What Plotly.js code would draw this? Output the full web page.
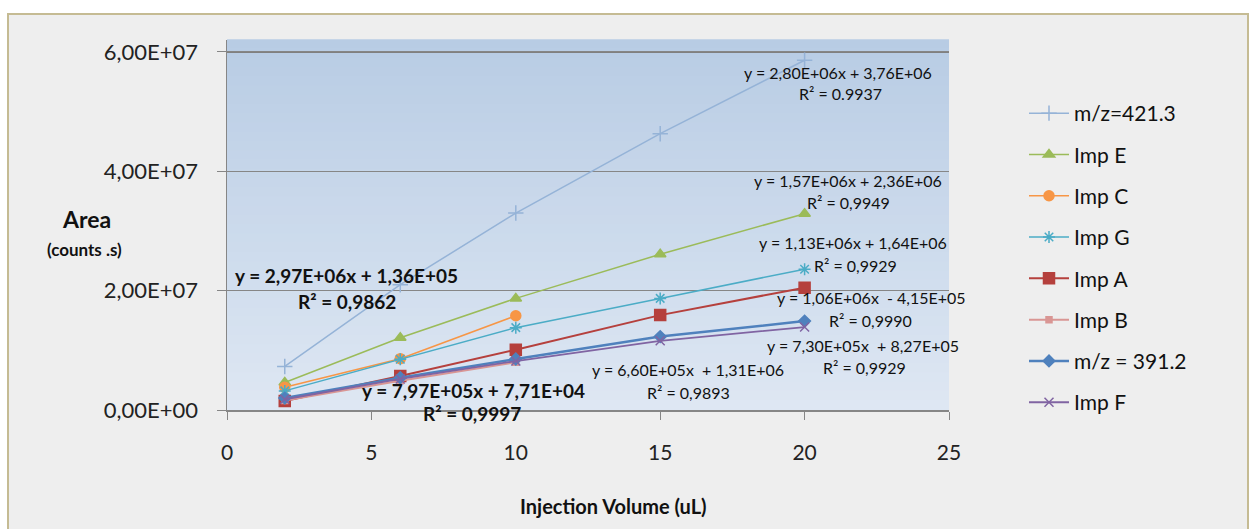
<!DOCTYPE html>
<html>
<head>
<meta charset="utf-8">
<script src="https://cdn.plot.ly/plotly-3.0.1.min.js"></script>
<style>
  html, body { margin:0; padding:0; background:#ffffff; width:1254px; height:529px; overflow:hidden; }
  #frame { position:absolute; left:7px; top:13px; width:1238px; height:600px; border:2px solid #c5bb93; background:#eeeeee; }
  #chart { position:absolute; left:0; top:0; width:1254px; height:529px; }
</style>
</head>
<body>
<div id="frame"></div>
<div id="chart"></div>
<script>
// ---- data ----
const volumes5 = [2, 6, 10, 15, 20];
const volumes3 = [2, 6, 10];
const seriesNames = ["m/z=421.3", "Imp E", "Imp C", "Imp G", "Imp A", "Imp B", "m/z = 391.2", "Imp F"];
const mz421 = [7.3e6, 2.1e7, 3.3e7, 4.63e7, 5.86e7];
const impE  = [4.6e6, 1.21e7, 1.87e7, 2.61e7, 3.29e7];
const impC  = [3.8e6, 8.6e6, 1.58e7];
const impG  = [3.2e6, 8.5e6, 1.38e7, 1.87e7, 2.36e7];
const impA  = [1.5e6, 5.7e6, 1.01e7, 1.59e7, 2.05e7];
const impB  = [1.6e6, 4.9e6, 8.0e6];
const mz391 = [2.0e6, 5.4e6, 8.55e6, 1.23e7, 1.49e7];
const impF  = [1.8e6, 5.2e6, 8.2e6, 1.16e7, 1.39e7];
const yTickVals = [0, 2e7, 4e7, 6e7];
const yTickText = ["0,00E+00", "2,00E+07", "4,00E+07", "6,00E+07"];
const xTickVals = [0, 5, 10, 15, 20, 25];
const eqLines = [
  "y = 2,80E+06x + 3,76E+06", "R\u00b2 = 0.9937",
  "y = 1,57E+06x + 2,36E+06", "R\u00b2 = 0,9949",
  "y = 1,13E+06x + 1,64E+06", "R\u00b2 = 0,9929",
  "y = 1,06E+06x  - 4,15E+05", "R\u00b2 = 0,9990",
  "y = 7,30E+05x  + 8,27E+05", "R\u00b2 = 0,9929",
  "y = 6,60E+05x  + 1,31E+06", "R\u00b2 = 0,9893"
];
const eqBold = [
  "y = 2,97E+06x + 1,36E+05", "R\u00b2 = 0,9862",
  "y = 7,97E+05x + 7,71E+04", "R\u00b2 = 0,9997"
];
const yTitle = ["Area", "(counts .s)"];
const xTitle = "Injection Volume (uL)";

// ---- layout geometry ----
const W = 1254, H = 529;
const L = 227, R = 949, T = 40, B = 410;
function px(x) { return (x - L) / (R - L); }
function py(y) { return (B - y) / (B - T); }
const FONT = "Lato, 'Open Sans', sans-serif";

function tr(name, x, y, color, lw, symbol, size) {
  return {
    type: "scatter", mode: "lines+markers", name: name, x: x, y: y,
    legendgroup: name,
    line: { color: color, width: lw },
    marker: { symbol: symbol, size: size, color: color, line: { color: color, width: 1.5 } },
    hoverinfo: "skip"
  };
}

const traces = [
  tr(seriesNames[0], volumes5, mz421, "#95b3d7", 1.5, "cross-thin", 11),
  tr(seriesNames[1], volumes5, impE, "#9bbb59", 1.5, "triangle-up", 10),
  tr(seriesNames[2], volumes3, impC, "#f79646", 1.5, "circle", 10),
  tr(seriesNames[3], volumes5, impG, "#4bacc6", 1.5, "asterisk-open", 10),
  tr(seriesNames[4], volumes5, impA, "#b5403d", 2, "square", 11),
  tr(seriesNames[5], volumes3, impB, "#d99694", 2, "square", 6),
  tr(seriesNames[6], volumes5, mz391, "#4f81bd", 2.5, "diamond", 9),
  tr(seriesNames[7], volumes5, impF, "#8064a2", 1.8, "x-thin-open", 9)
];

// gradient background bands for plot area
const shapes = [];
const N = 40;
const c0 = [184, 204, 228], c1 = [222, 231, 243];
for (let i = 0; i < N; i++) {
  const t = (i + 0.5) / N;
  const c = c0.map((v, k) => Math.round(v + (c1[k] - v) * t));
  shapes.push({
    type: "rect", xref: "x domain", yref: "y domain", layer: "below",
    x0: 0, x1: 1, y0: 1 - (i + 1) / N - 0.002, y1: 1 - i / N + 0.002,
    line: { width: 0 }, fillcolor: "rgb(" + c.join(",") + ")"
  });
}
// heavier top gridline
shapes.push({
  type: "line", xref: "x domain", yref: "y", layer: "below",
  x0: 0, x1: 1, y0: yTickVals[3], y1: yTickVals[3],
  line: { color: "#808080", width: 2 }
});

const annotations = [];
function note(text, cx, cy, size, bold) {
  annotations.push({
    xref: "paper", yref: "paper", x: px(cx), y: py(cy),
    xanchor: "center", yanchor: "middle", showarrow: false,
    text: bold ? "<b>" + text + "</b>" : text,
    font: { family: FONT, size: size, color: "#111111" }
  });
}
const eqPos = [
  [838, 72], [840, 93],
  [848, 180], [848, 202],
  [853, 242], [855, 265],
  [871, 297], [870, 320],
  [863, 345], [864, 367],
  [688, 369], [688, 392]
];
eqLines.forEach((t, i) => note(t, eqPos[i][0], eqPos[i][1], 16, false));
const boldPos = [[346, 275], [347, 301], [473, 390], [472, 414]];
eqBold.forEach((t, i) => note(t, boldPos[i][0], boldPos[i][1], 19, true));
note(yTitle[0], 86, 219, 23, true);
note(yTitle[1], 84, 249, 17, true);
note(xTitle, 613, 506, 20, true);

const layout = {
  width: W, height: H,
  margin: { l: L, r: W - R, t: T, b: H - B, pad: 0 },
  paper_bgcolor: "rgba(0,0,0,0)",
  plot_bgcolor: "rgba(0,0,0,0)",
  font: { family: FONT, color: "#222222" },
  showlegend: true,
  legend: {
    x: px(1024), y: py(93), xanchor: "left", yanchor: "top",
    bgcolor: "rgba(0,0,0,0)", borderwidth: 0,
    font: { family: FONT, size: 21, color: "#111111" },
    tracegroupgap: 11, traceorder: "grouped", itemwidth: 40
  },
  xaxis: {
    range: [0, 25], tickvals: xTickVals, ticktext: xTickVals.map(String),
    ticks: "outside", ticklen: 8, tickcolor: "#868686", tickwidth: 1,
    showline: true, linecolor: "#868686", linewidth: 1.5,
    showgrid: false, zeroline: false,
    tickfont: { family: FONT, size: 21, color: "#222222" },
    ticklabelstandoff: 15
  },
  yaxis: {
    range: [0, 6.2e7], tickvals: yTickVals, ticktext: yTickText,
    ticks: "outside", ticklen: 9, tickcolor: "#868686", tickwidth: 1,
    showline: true, linecolor: "#868686", linewidth: 1.5,
    showgrid: true, gridcolor: "#868686", gridwidth: 1, zeroline: false,
    tickfont: { family: FONT, size: 22, color: "#222222" },
    ticklabelstandoff: 14
  },
  shapes: shapes,
  annotations: annotations
};

Plotly.newPlot("chart", traces, layout, { staticPlot: true, displayModeBar: false });
</script>
</body>
</html>
